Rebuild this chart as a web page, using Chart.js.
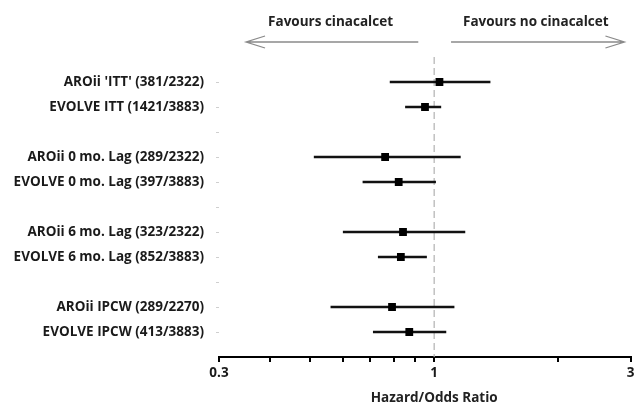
<!DOCTYPE html>
<html>
<head>
<meta charset="utf-8">
<script src="https://cdn.jsdelivr.net/npm/chart.js@4"></script>
<style>
  html, body { margin: 0; padding: 0; background: #fff; }
  #wrap { width: 636px; height: 410px; position: relative; }
</style>
</head>
<body>
<div id="wrap"><canvas id="grafico"></canvas></div>
<script>
// Linhas do forest plot, de cima para baixo ('' = espaço entre grupos)
const categorias = [
    "AROii 'ITT' (381/2322)",
    "EVOLVE ITT (1421/3883)",
    "",
    "AROii 0 mo. Lag (289/2322)",
    "EVOLVE 0 mo. Lag (397/3883)",
    "",
    "AROii 6 mo. Lag (323/2322)",
    "EVOLVE 6 mo. Lag (852/3883)",
    "",
    "AROii IPCW (289/2270)",
    "EVOLVE IPCW (413/3883)"
];
// Estimativas e intervalos (mesma ordem das linhas não vazias)
const estimativa = [1.03, 0.95, 0.76, 0.82, 0.84, 0.83, 0.79, 0.87];
const inferior   = [0.78, 0.85, 0.51, 0.67, 0.60, 0.73, 0.56, 0.71];
const superior   = [1.37, 1.04, 1.16, 1.01, 1.19, 0.96, 1.12, 1.07];

const ticksX = [0.3, 0.4, 0.5, 0.6, 0.7, 0.8, 0.9, 1, 2, 3];
const ticksXRotulo = [0.3, 1, 3];
const tituloX = 'Hazard/Odds Ratio';
const textoEsq = 'Favours cinacalcet';
const textoDir = 'Favours no cinacalcet';

// Posição (linha) de cada estudo no eixo y
const linhas = [];
categorias.forEach(function (c, i) { if (c) linhas.push(i + 1); });

const fonte = { family: "'Open Sans'", size: 13.5, weight: 'bold' };

const pontos = linhas.map(function (y, i) { return { x: estimativa[i], y: y }; });

const barras = linhas.map(function (y, i) {
    return {
        type: 'line',
        data: [{ x: inferior[i], y: y }, { x: superior[i], y: y }],
        borderColor: '#111',
        borderWidth: 2.5,
        pointRadius: 0
    };
});

// Plugin para cabeçalho com setas e título do eixo
const cabecalho = {
    id: 'cabecalho',
    afterDraw: function (chart) {
        const ctx = chart.ctx;
        const sx = chart.scales.x;
        const yArrow = 42;
        ctx.save();
        ctx.strokeStyle = '#8a8a8a';
        ctx.lineWidth = 1.3;
        function seta(de, ate) {
            const x1 = sx.getPixelForValue(de), x2 = sx.getPixelForValue(ate);
            const dir = x2 > x1 ? 1 : -1;
            ctx.beginPath();
            ctx.moveTo(x1, yArrow);
            ctx.lineTo(x2, yArrow);
            ctx.moveTo(x2 - dir * 19, yArrow - 6);
            ctx.lineTo(x2, yArrow);
            ctx.lineTo(x2 - dir * 19, yArrow + 6);
            ctx.stroke();
        }
        seta(0.915, 0.349);
        seta(1.099, 2.90);

        ctx.fillStyle = '#222';
        ctx.font = "bold 13.5px 'Open Sans'";
        ctx.textAlign = 'center';
        ctx.textBaseline = 'middle';
        ctx.fillText(textoEsq, sx.getPixelForValue(0.56), 22);
        ctx.fillText(textoDir, sx.getPixelForValue(1.766), 22);
        ctx.fillText(tituloX, sx.getPixelForValue(1), 398);
        ctx.restore();
    }
};

new Chart(document.getElementById('grafico').getContext('2d'), {
    type: 'scatter',
    data: {
        datasets: [
            {
                data: pontos,
                pointStyle: 'rect',
                pointRadius: 5.5,
                backgroundColor: '#000',
                borderColor: '#000',
                borderWidth: 0
            }
        ].concat(barras).concat([
            {
                type: 'line',
                data: [{ x: 1, y: 0 }, { x: 1, y: categorias.length + 1 }],
                borderColor: '#b0b0b0',
                borderWidth: 1.2,
                borderDash: [7, 4],
                pointRadius: 0
            }
        ])
    },
    options: {
        responsive: true,
        maintainAspectRatio: false,
        animation: false,
        layout: { padding: { top: 57, right: 3, left: 0, bottom: 0 } },
        plugins: { legend: { display: false }, tooltip: { enabled: false } },
        scales: {
            x: {
                type: 'logarithmic',
                min: 0.3,
                max: 3,
                afterBuildTicks: function (s) {
                    s.ticks = ticksX.map(function (v) { return { value: v }; });
                },
                afterFit: function (s) {
                    s.height = 53;
                    s.paddingLeft = 0;
                    s.paddingRight = 0;
                },
                ticks: {
                    autoSkip: false,
                    maxRotation: 0,
                    padding: 3,
                    color: '#1a1a1a',
                    font: fonte,
                    callback: function (v) {
                        return ticksXRotulo.indexOf(v) >= 0 ? String(v) : '';
                    }
                },
                grid: {
                    drawOnChartArea: false,
                    tickLength: 5,
                    color: '#000',
                    lineWidth: 2
                },
                border: { display: true, color: '#000', width: 2 }
            },
            y: {
                type: 'linear',
                reverse: true,
                min: 0,
                max: categorias.length + 1,
                afterFit: function (s) { s.width = 219; },
                ticks: {
                    stepSize: 1,
                    autoSkip: false,
                    padding: 12,
                    color: '#1a1a1a',
                    font: fonte,
                    callback: function (v) { return categorias[v - 1] || ''; }
                },
                grid: {
                    drawOnChartArea: false,
                    tickLength: 3,
                    color: function (c) {
                        const v = c.tick && c.tick.value;
                        return (v === 0 || v === categorias.length + 1) ? 'rgba(0,0,0,0)' : '#cfcfcf';
                    }
                },
                border: { display: false }
            }
        }
    },
    plugins: [cabecalho]
});
</script>
</body>
</html>
